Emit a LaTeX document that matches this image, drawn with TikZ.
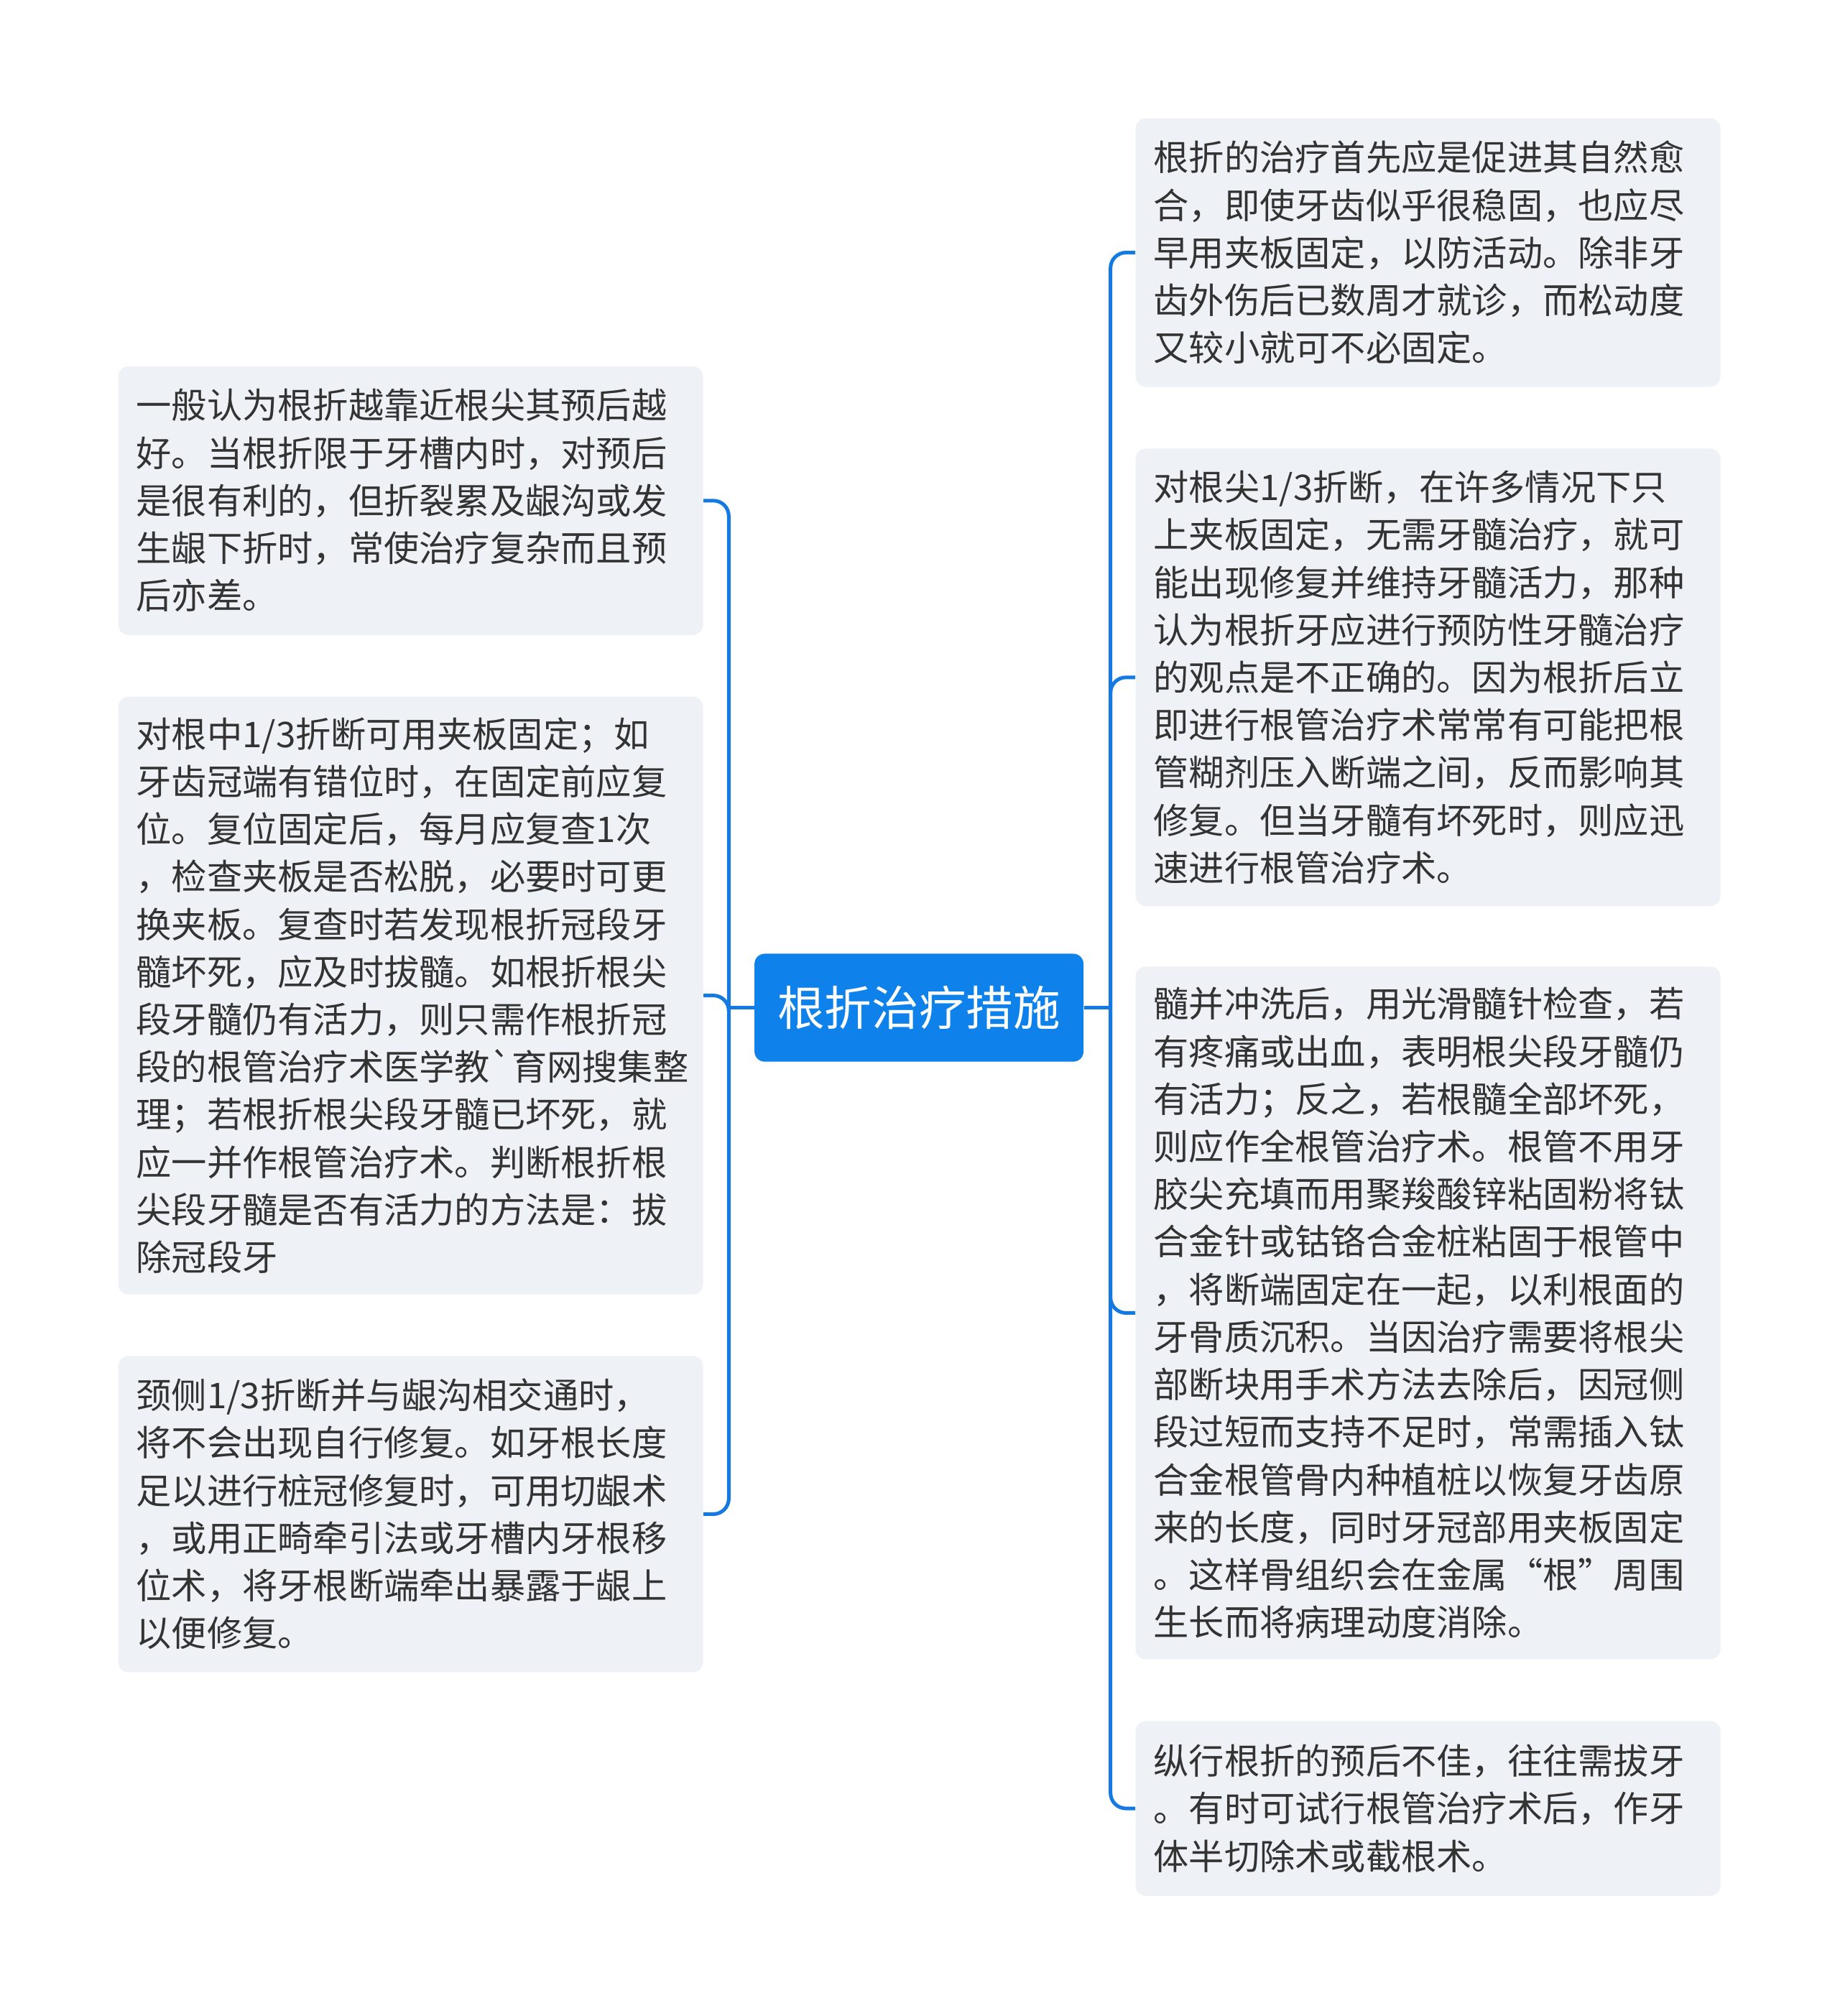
\documentclass[tikz,border=0pt]{standalone}
\usepackage{fontspec}
\setmainfont{Noto Sans CJK SC}
\definecolor{topic}{HTML}{0E82EA}
\definecolor{wire}{HTML}{1479E0}
\definecolor{card}{HTML}{EEF1F5}
\definecolor{ink}{HTML}{333333}
\begin{document}
\begin{tikzpicture}[x=0.03cm,y=-0.03cm,
	leaf/.style={fill=card,rounded corners=0.24cm,text=ink,align=left,text width=12.81cm,inner xsep=0.42cm,inner ysep=0pt,font=\fontsize{23.5}{31.6}\selectfont},
	root/.style={fill=topic,rounded corners=0.24cm,text=white,minimum width=7.68cm,minimum height=2.52cm,inner sep=0pt,font=\fontsize{31.3}{36}\selectfont},
	link/.style={draw=wire,line width=2.4pt,rounded corners=0.36cm}]
		\useasboundingbox (0,0) rectangle (1431,1568.5);
			\node[root] (root) at (715,784) {根折治疗措施};
			\node[leaf,minimum height=6.27cm] (l1) at (319.5,389.5) {一般认为根折越靠近根尖其预后越\\好。当根折限于牙槽内时，对预后\\是很有利的，但折裂累及龈沟或发\\生龈下折时，常使治疗复杂而且预\\后亦差。};
			\node[leaf,minimum height=13.95cm] (l2) at (319.5,774.5) {对根中1/3折断可用夹板固定；如\\牙齿冠端有错位时，在固定前应复\\位。复位固定后，每月应复查1次\\，检查夹板是否松脱，必要时可更\\换夹板。复查时若发现根折冠段牙\\髓坏死，应及时拔髓。如根折根尖\\段牙髓仍有活力，则只需作根折冠\\段的根管治疗术医学教\textasciigrave 育网搜集整\\理；若根折根尖段牙髓已坏死，就\\应一并作根管治疗术。判断根折根\\尖段牙髓是否有活力的方法是：拔\\除冠段牙};
			\node[leaf,minimum height=7.38cm] (l3) at (319.5,1178) {颈侧1/3折断并与龈沟相交通时，\\将不会出现自行修复。如牙根长度\\足以进行桩冠修复时，可用切龈术\\，或用正畸牵引法或牙槽内牙根移\\位术，将牙根断端牵出暴露于龈上\\以便修复。};
			\node[leaf,minimum height=6.27cm] (r1) at (1111,196.5) {根折的治疗首先应是促进其自然愈\\合，即使牙齿似乎很稳固，也应尽\\早用夹板固定，以防活动。除非牙\\齿外伤后已数周才就诊，而松动度\\又较小就可不必固定。};
			\node[leaf,minimum height=10.68cm] (r2) at (1111,527) {对根尖1/3折断，在许多情况下只\\上夹板固定，无需牙髓治疗，就可\\能出现修复并维持牙髓活力，那种\\认为根折牙应进行预防性牙髓治疗\\的观点是不正确的。因为根折后立\\即进行根管治疗术常常有可能把根\\管糊剂压入断端之间，反而影响其\\修复。但当牙髓有坏死时，则应迅\\速进行根管治疗术。};
			\node[leaf,minimum height=16.17cm] (r3) at (1111,1021.5) {髓并冲洗后，用光滑髓针检查，若\\有疼痛或出血，表明根尖段牙髓仍\\有活力；反之，若根髓全部坏死，\\则应作全根管治疗术。根管不用牙\\胶尖充填而用聚羧酸锌粘固粉将钛\\合金针或钴铬合金桩粘固于根管中\\，将断端固定在一起，以利根面的\\牙骨质沉积。当因治疗需要将根尖\\部断块用手术方法去除后，因冠侧\\段过短而支持不足时，常需插入钛\\合金根管骨内种植桩以恢复牙齿原\\来的长度，同时牙冠部用夹板固定\\。这样骨组织会在金属“根”周围\\生长而将病理动度消除。};
			\node[leaf,minimum height=4.08cm] (r4) at (1111,1407) {纵行根折的预后不佳，往往需拔牙\\。有时可试行根管治疗术后，作牙\\体半切除术或截根术。};
			\coordinate (ls) at (567,784);
			\coordinate (rs) at (864,784);
			\draw[link] (root.west)--(ls);
			\draw[link] (root.east)--(rs);
			\draw[link] (ls)|-(l1.east);
			\draw[link] (ls)|-(l2.east);
			\draw[link] (ls)|-(l3.east);
			\draw[link] (rs)|-(r1.west);
			\draw[link] (rs)|-(r2.west);
			\draw[link] (rs)|-(r3.west);
			\draw[link] (rs)|-(r4.west);
	\end{tikzpicture}
\end{document}
